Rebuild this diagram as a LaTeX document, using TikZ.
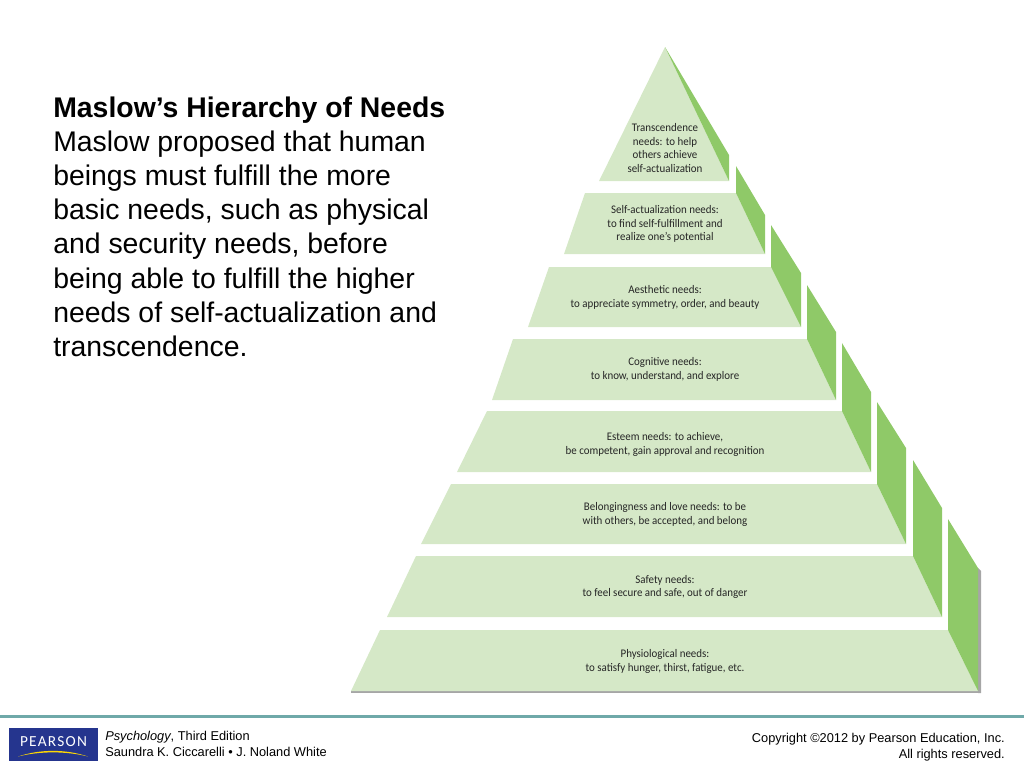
\documentclass[tikz,border=0pt]{standalone}
\usepackage{fontspec}
\setmainfont{Liberation Sans}
\newfontfamily\tierfont[FakeStretch=0.94]{Carlito}
\newfontfamily\logofont{Carlito}
\definecolor{palegreen}{HTML}{D5E8C7}
\definecolor{sidegreen}{HTML}{8FC968}
\definecolor{pearsonblue}{HTML}{25358E}
\definecolor{rulegreen}{HTML}{6FA9A9}
\tikzset{
  tierlabel/.style={align=center,font=\tierfont\fontsize{8.72}{10.3}\selectfont,text=black!85},
  footlabel/.style={font=\fontsize{9.6}{10.8}\selectfont,inner sep=0pt},
}
\begin{document}
\begin{tikzpicture}[x=0.75pt,y=-0.75pt]
\useasboundingbox (0,0) rectangle (1024,768);
%ombre
\fill[gray!70] (351,691) rectangle (981,693);
\fill[gray!70] (978,568) -- (981,571) -- (981,693) -- (978,693) -- cycle;
%sommet
\fill[palegreen] (665,47) -- (729,181) -- (599,181) -- cycle;
\fill[sidegreen] (665,47) -- (729,155) -- (729,181) -- cycle;
%etages
\fill[palegreen] (585,193) -- (736,193) -- (765,254) -- (564,254) -- cycle;
\fill[sidegreen] (736,166) -- (765,215) -- (765,254) -- (736,193) -- cycle;
\fill[palegreen] (549,267) -- (771,267) -- (801,327) -- (528,327) -- cycle;
\fill[sidegreen] (771,225) -- (801,273) -- (801,327) -- (771,267) -- cycle;
\fill[palegreen] (513,339) -- (807,339) -- (836,400) -- (492,400) -- cycle;
\fill[sidegreen] (807,285) -- (836,332) -- (836,400) -- (807,339) -- cycle;
\fill[palegreen] (487,411) -- (842,411) -- (871,472) -- (457,472) -- cycle;
\fill[sidegreen] (842,343) -- (871,392) -- (871,472) -- (842,411) -- cycle;
\fill[palegreen] (451,484) -- (877,484) -- (906,544) -- (421,544) -- cycle;
\fill[sidegreen] (877,402) -- (906,448) -- (906,544) -- (877,484) -- cycle;
\fill[palegreen] (416,556) -- (913,556) -- (942,617) -- (387,617) -- cycle;
\fill[sidegreen] (913,460) -- (942,508) -- (942,617) -- (913,556) -- cycle;
\fill[palegreen] (380,630) -- (948,630) -- (978,691) -- (351,691) -- cycle;
\fill[sidegreen] (948,519) -- (978,568) -- (978,691) -- (948,630) -- cycle;
%textes de la pyramide
\node[tierlabel] (transcendence) at (665,148) {Transcendence\\needs: to help\\others achieve\\self-actualization};
\node[tierlabel] (selfactual) at (665,224) {Self-actualization needs:\\to find self-fulfillment and\\realize one’s potential};
\node[tierlabel] (aesthetic) at (665,297.5) {Aesthetic needs:\\to appreciate symmetry, order, and beauty};
\node[tierlabel] (cognitive) at (665,369.5) {Cognitive needs:\\to know, understand, and explore};
\node[tierlabel] (esteem) at (665,444.5) {Esteem needs: to achieve,\\be competent, gain approval and recognition};
\node[tierlabel] (belonging) at (665,514.5) {Belongingness and love needs: to be\\with others, be accepted, and belong};
\node[tierlabel] (safety) at (665,587) {Safety needs:\\to feel secure and safe, out of danger};
\node[tierlabel] (physio) at (665,661.5) {Physiological needs:\\to satisfy hunger, thirst, fatigue, etc.};
%texte principal
\node[anchor=north west,align=left,inner sep=0pt,font=\fontsize{21.3}{25.6}\selectfont] (maintext) at (53,96.5)
  {\textbf{Maslow’s Hierarchy of Needs}\\Maslow proposed that human\\beings must fulfill the more\\basic needs, such as physical\\and security needs, before\\being able to fulfill the higher\\needs of self-actualization and\\transcendence.};
%bas de page
\fill[rulegreen] (0,715) rectangle (1024,718);
\fill[pearsonblue] (9,728) rectangle (98,761);
\node[text=white,inner sep=0pt,font=\logofont\fontsize{11.5}{12}\selectfont] (logo) at (53.5,742) {P\kern.9pt E\kern.9pt A\kern.9pt R\kern.9pt S\kern.9pt O\kern.9pt N};
\fill[yellow!75!orange] (18,756.5) .. controls (40,749) and (66,749) .. (88,756.5) .. controls (66,751) and (40,751) .. (18,756.5);
\node[footlabel,anchor=base west] (book) at (105,740) {\textit{Psychology}, Third Edition};
\node[footlabel,anchor=base west] (authors) at (105,756) {Saundra K. Ciccarelli • J. Noland White};
\node[footlabel,anchor=base east] (copyright) at (1005,742) {Copyright ©2012 by Pearson Education, Inc.};
\node[footlabel,anchor=base east] (rights) at (1005,758) {All rights reserved.};
\end{tikzpicture}
\end{document}
